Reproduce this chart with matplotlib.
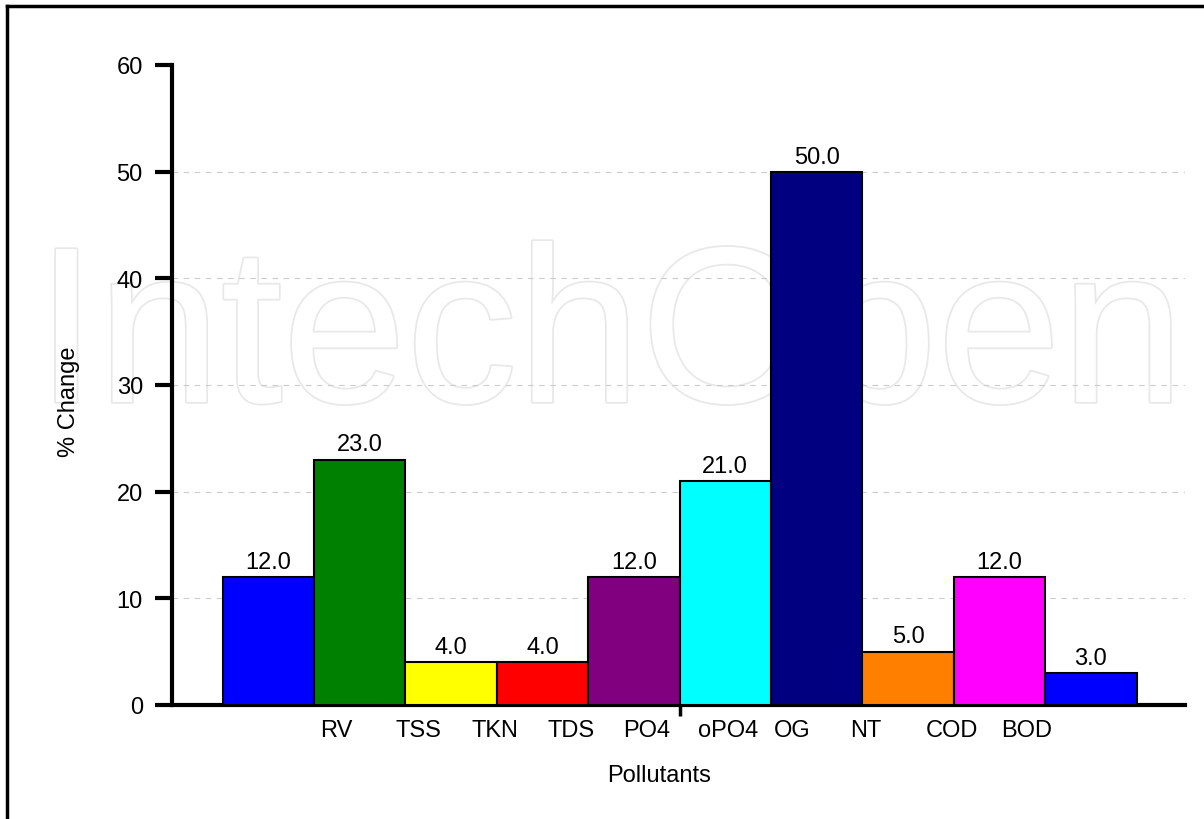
import numpy as np
import matplotlib.pyplot as plt
import matplotlib.patheffects as pe
from matplotlib.lines import Line2D

plt.rcParams['font.family'] = ['Liberation Sans', 'DejaVu Sans']

# data
pollutants = ['RV', 'TSS', 'TKN', 'TDS', 'PO4', 'oPO4', 'OG', 'NT', 'COD', 'BOD']
pct_change = [12.0, 23.0, 4.0, 4.0, 12.0, 21.0, 50.0, 5.0, 12.0, 3.0]
bar_colors = ['#0000ff', '#008000', '#ffff00', '#ff0000', '#800080',
              '#00ffff', '#000080', '#ff8000', '#ff00ff', '#0000ff']
y_ticks = [0, 10, 20, 30, 40, 50, 60]

FS = 17
W, H = 1204, 820
fig = plt.figure(figsize=(W / 100, H / 100), dpi=100)
ax = fig.add_axes([172 / W, 114 / H, (1185 - 172) / W, 640 / H])
ax.patch.set_visible(False)

# faint watermark behind the chart
fig.text(610 / W, 1 - 403 / H, 'IntechOpen', ha='center', va='baseline',
         fontsize=160, color='white', zorder=-1,
         path_effects=[pe.withStroke(linewidth=2.5, foreground='#e8e8e8')])

x = np.arange(len(pct_change))
bars = ax.bar(x, pct_change, width=1.0, color=bar_colors,
              edgecolor='black', linewidth=1.5, zorder=3)
ax.bar_label(bars, fmt='%.1f', padding=3, fontsize=FS)

ax.set_xlim(-1.054, 10.03)
ax.set_ylim(0, 60)

for side in ['top', 'right']:
    ax.spines[side].set_visible(False)
for side in ['left', 'bottom']:
    ax.spines[side].set_linewidth(3)

ax.set_yticks(y_ticks)
ax.tick_params(axis='y', length=12, width=3, pad=9, labelsize=FS)

# category labels sit on an evenly spaced grid that doesn't line up with the bars
first, step = 0.566, 0.828
ax.set_xticks([first + step * i for i in range(len(pollutants))], pollutants)
for lbl in ax.get_xticklabels():
    lbl.set_ha('left')
ax.tick_params(axis='x', which='major', length=0, pad=10, labelsize=FS)
ax.set_xticks([len(pct_change) / 2 - 0.5], minor=True)
ax.tick_params(axis='x', which='minor', length=8, width=2.5)

ax.yaxis.grid(True, linestyle=(0, (5, 5)), color='#cccccc', linewidth=0.8)
ax.set_axisbelow(True)
ax.yaxis.get_gridlines()[-1].set_visible(False)

ax.set_xlabel('Pollutants', fontsize=FS)
ax.xaxis.set_label_coords((659 - 172) / (1185 - 172), -0.092)
ax.set_ylabel('% Change', fontsize=FS)
ax.yaxis.set_label_coords(-0.091, 0.475)

# outer frame (only left and top edges visible)
fig.add_artist(Line2D([6.5 / W, 6.5 / W], [0, 1 - 6.5 / H], color='black', lw=2.5))
fig.add_artist(Line2D([6.5 / W, 1], [1 - 6.5 / H, 1 - 6.5 / H], color='black', lw=2.5))

fig.savefig('out.png', dpi=100)
